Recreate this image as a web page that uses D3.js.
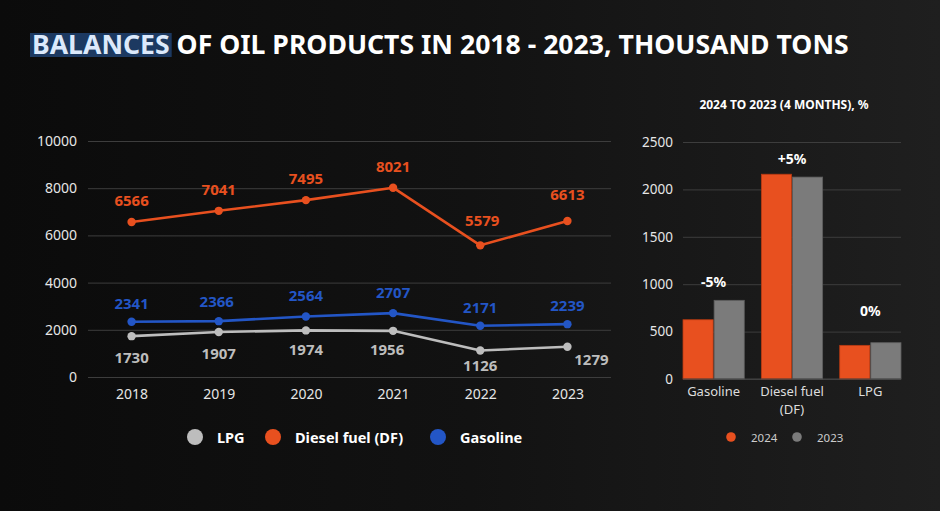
<!DOCTYPE html>
<html><head><meta charset="utf-8">
<script src="https://cdn.jsdelivr.net/npm/d3@7"></script>
<style>
html,body{margin:0;padding:0;background:#111;}
svg{display:block;}
text{font-family:"Noto Sans","Open Sans",sans-serif;}
</style></head>
<body>
<svg id="c" width="940" height="511"></svg>
<script>
// ---- data ----
const years = ["2018","2019","2020","2021","2022","2023"];
const lpg = [1730,1907,1974,1956,1126,1279];
const diesel = [6566,7041,7495,8021,5579,6613];
const gasoline = [2341,2366,2564,2707,2171,2239];
const lineTicks = [0,2000,4000,6000,8000,10000];
const seriesNames = ["LPG","Diesel fuel (DF)","Gasoline"];

const barCategories = ["Gasoline","Diesel fuel (DF)","LPG"];
const barCategoryLines = [["Gasoline"],["Diesel fuel","(DF)"],["LPG"]];
const bars2024 = [625,2160,355];
const bars2023 = [830,2130,383];
const barChange = ["-5%","+5%","0%"];
const barTicks = [0,500,1000,1500,2000,2500];
const barYears = ["2024","2023"];

const titleHighlight = "BALANCES";
const titleRest = " OF OIL PRODUCTS IN 2018 - 2023, THOUSAND TONS";
const subTitle = "2024 TO 2023 (4 MONTHS), %";

// ---- styles ----
const C = {orange:"#E8501F", blue:"#2356C6", gray:"#BDBDBD", bar23:"#7B7B7B", grid:"#3d3d3d", text:"#E6E6E6"};

const svg = d3.select("#c");
const defs = svg.append("defs");
const g = defs.append("linearGradient").attr("id","bg").attr("x1","0").attr("x2","1").attr("y1","0").attr("y2","0");
g.append("stop").attr("offset","0").attr("stop-color","#0b0b0b");
g.append("stop").attr("offset","0.5").attr("stop-color","#121212");
g.append("stop").attr("offset","1").attr("stop-color","#1f1f1f");
svg.append("rect").attr("width",940).attr("height",511).attr("fill","url(#bg)");

// ---- title ----
const tY = 54;
const tFont = "'Noto Sans','Open Sans',sans-serif";
const hiText = svg.append("text").attr("x",32).attr("y",tY).attr("font-size",25).attr("font-weight",700)
  .attr("fill","#DCE9FB").text(titleHighlight);
const restText = svg.append("text").attr("y",tY).attr("font-size",25).attr("font-weight",700)
  .attr("fill","#FFFFFF").attr("xml:space","preserve").style("white-space","pre").text(titleRest);
let w1 = hiText.node().getComputedTextLength();
let w2 = restText.node().getComputedTextLength();
const fs = 25*817/(w1+w2);
hiText.attr("font-size",fs); restText.attr("font-size",fs);
w1 = hiText.node().getComputedTextLength();
restText.attr("x",32+w1);
svg.insert("rect","text").attr("x",30).attr("y",33).attr("width",w1+4).attr("height",24).attr("fill","#1C3961");

// ---- line chart ----
const L = {left:88,right:611,top:141,bottom:377};
const x = d3.scalePoint().domain(years).range([L.left,L.right]).padding(0.5);
const y = d3.scaleLinear().domain([0,10000]).range([L.bottom,L.top]);

const yAx = svg.append("g").attr("transform",`translate(${L.left},0)`)
  .call(d3.axisLeft(y).tickValues(lineTicks).tickSize(-(L.right-L.left)).tickPadding(11).tickFormat(d3.format("d")));
yAx.select(".domain").remove();
yAx.selectAll(".tick line").attr("stroke",C.grid).attr("stroke-width",1);
yAx.selectAll(".tick text").attr("fill",C.text).attr("font-size",14).style("font-family",tFont);

const xAx = svg.append("g").attr("transform",`translate(0,${L.bottom})`)
  .call(d3.axisBottom(x).tickSize(0).tickPadding(12));
xAx.select(".domain").remove();
xAx.selectAll(".tick text").attr("fill",C.text).attr("font-size",14).style("font-family",tFont);

const series = [
  {name:seriesNames[0], vals:lpg, color:C.gray, dy:21, dx:0},
  {name:seriesNames[1], vals:diesel, color:C.orange, dy:-22, dx:0},
  {name:seriesNames[2], vals:gasoline, color:C.blue, dy:-19, dx:0}
];
const line = d3.line().x((d,i)=>x(years[i])).y(d=>y(d));
series.forEach(s=>{
  svg.append("path").datum(s.vals).attr("d",line).attr("fill","none")
    .attr("stroke",s.color).attr("stroke-width",2.6).attr("stroke-linejoin","round");
  svg.append("g").selectAll("circle").data(s.vals).join("circle")
    .attr("cx",(d,i)=>x(years[i])).attr("cy",d=>y(d)).attr("r",4.2).attr("fill",s.color);
});
// label nudges (layout only)
const nudge = {"LPG":[[0,0],[0,0],[0,-2],[-6,-3],[0,-6],[24,-9]],
               "Diesel fuel (DF)":[[0,0],[0,0],[0,0],[0,0],[2,-3],[0,-5]],
               "Gasoline":[[0,0],[-2,-1],[0,-2],[0,-2],[0,0],[0,0]]};
series.forEach(s=>{
  svg.append("g").selectAll("text").data(s.vals).join("text")
    .attr("x",(d,i)=>x(years[i])+s.dx+nudge[s.name][i][0])
    .attr("y",(d,i)=>y(d)+s.dy+nudge[s.name][i][1])
    .attr("text-anchor","middle").attr("dominant-baseline","central")
    .attr("font-size",15).attr("font-weight",700).attr("fill",s.color)
    .text(d=>d);
});

// legend
const legX = [195,273,438];
const legG = svg.append("g");
series.forEach((s,i)=>{
  legG.append("circle").attr("cx",legX[i]).attr("cy",437).attr("r",8).attr("fill",s.color);
  legG.append("text").attr("x",legX[i]+22).attr("y",437).attr("dominant-baseline","central")
    .attr("font-size",14.5).attr("font-weight",700).attr("fill","#FFFFFF").text(s.name);
});

// ---- bar chart ----
const B = {left:683,right:901,top:142,bottom:379};
const bx = d3.scaleBand().domain(barCategories).range([B.left,B.right]).paddingInner(0.218).paddingOuter(0);
const bx2 = d3.scaleBand().domain(barYears).range([0,bx.bandwidth()]).paddingInner(0.03);
const by = d3.scaleLinear().domain([0,2500]).range([B.bottom,B.top]);

svg.append("text").attr("x",784).attr("y",104).attr("text-anchor","middle").attr("dominant-baseline","central")
  .attr("font-size",12).attr("font-weight",700).attr("fill","#FFFFFF").text(subTitle);

const byAx = svg.append("g").attr("transform",`translate(${B.left},0)`)
  .call(d3.axisLeft(by).tickValues(barTicks).tickSize(-(B.right-B.left)).tickPadding(10).tickFormat(d3.format("d")));
byAx.select(".domain").remove();
byAx.selectAll(".tick line").attr("stroke",C.grid);
byAx.selectAll(".tick text").attr("fill",C.text).attr("font-size",13.5).style("font-family",tFont);

const barData = barCategories.map((c,i)=>({c, vals:[{k:"2024",v:bars2024[i]},{k:"2023",v:bars2023[i]}]}));
const grp = svg.append("g").selectAll("g").data(barData).join("g")
  .attr("transform",d=>`translate(${bx(d.c)},0)`);
grp.selectAll("rect").data(d=>d.vals).join("rect")
  .attr("x",d=>bx2(d.k)).attr("width",bx2.bandwidth())
  .attr("y",d=>by(d.v)).attr("height",d=>B.bottom-by(d.v))
  .attr("fill",d=>d.k==="2024"?C.orange:C.bar23)
  .attr("stroke",d=>d.k==="2024"?"#B83A12":"#5e5e5e").attr("stroke-width",0.8);
svg.append("line").attr("x1",B.left).attr("x2",B.right).attr("y1",B.bottom).attr("y2",B.bottom).attr("stroke","#444");

// change labels
const chgY = [281,158,310];
svg.append("g").selectAll("text").data(barChange).join("text")
  .attr("x",(d,i)=>bx(barCategories[i])+bx.bandwidth()/2)
  .attr("y",(d,i)=>chgY[i])
  .attr("text-anchor","middle").attr("dominant-baseline","central")
  .attr("font-size",14).attr("font-weight",700).attr("fill","#FFFFFF").text(d=>d);

// category labels
barCategoryLines.forEach((lines,i)=>{
  lines.forEach((t,j)=>{
    svg.append("text").attr("x",bx(barCategories[i])+bx.bandwidth()/2).attr("y",391+j*18)
      .attr("text-anchor","middle").attr("dominant-baseline","central")
      .attr("font-size",13).attr("fill","#DDDDDD").text(t);
  });
});

// bar legend
const bl = [[731,C.orange],[797,C.bar23]];
barYears.forEach((yv,i)=>{
  svg.append("circle").attr("cx",bl[i][0]).attr("cy",437).attr("r",4.8).attr("fill",bl[i][1]);
  svg.append("text").attr("x",bl[i][0]+20).attr("y",437).attr("dominant-baseline","central")
    .attr("font-size",11.5).attr("fill","#CCCCCC").text(yv);
});
</script>
</body></html>
